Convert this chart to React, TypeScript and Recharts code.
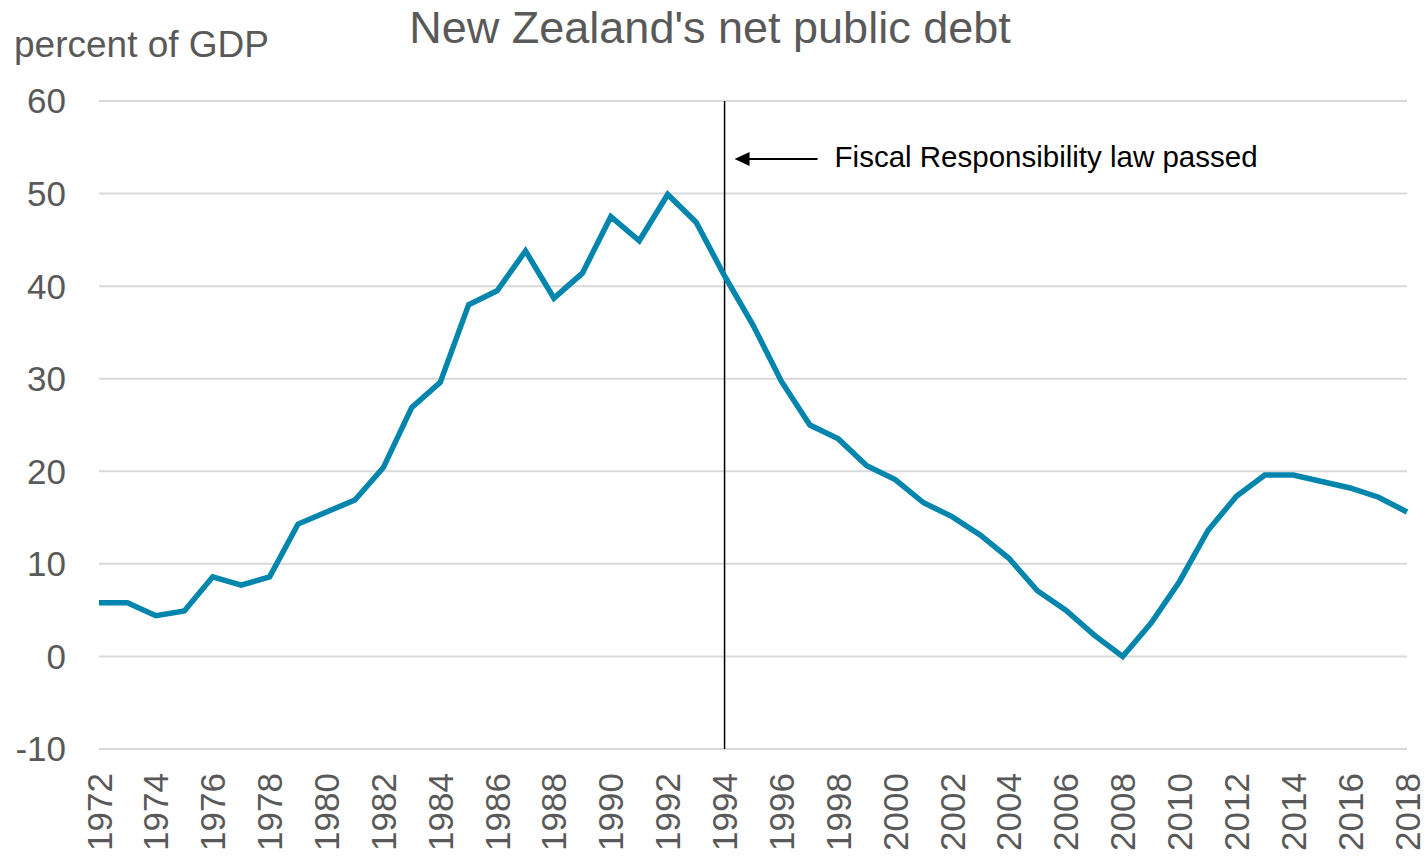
import React from 'react';
import { LineChart, Line, XAxis, YAxis, CartesianGrid, ReferenceLine } from 'recharts';

const years = [
  1972, 1973, 1974, 1975, 1976, 1977, 1978, 1979, 1980, 1981, 1982, 1983,
  1984, 1985, 1986, 1987, 1988, 1989, 1990, 1991, 1992, 1993, 1994, 1995,
  1996, 1997, 1998, 1999, 2000, 2001, 2002, 2003, 2004, 2005, 2006, 2007,
  2008, 2009, 2010, 2011, 2012, 2013, 2014, 2015, 2016, 2017, 2018,
];

const netDebt = [
  5.8, 5.8, 4.4, 4.9, 8.6, 7.7, 8.6, 14.3, 15.6, 16.9, 20.4, 26.9,
  29.6, 38.0, 39.5, 43.8, 38.7, 41.4, 47.5, 44.9, 49.9, 46.9, 41.1, 35.8,
  29.7, 25.0, 23.5, 20.6, 19.1, 16.6, 15.1, 13.1, 10.6, 7.1, 5.0, 2.3,
  0.0, 3.6, 8.1, 13.6, 17.3, 19.6, 19.6, 18.9, 18.2, 17.2, 15.6,
];

const yTicks = [-10, 0, 10, 20, 30, 40, 50, 60];
const xTicks = years.filter((y) => y % 2 === 0);

const title = "New Zealand's net public debt";
const unitLabel = 'percent of GDP';
const lawYear = 1994;
const lawNote = 'Fiscal Responsibility law passed';

const FONT = '"Liberation Sans", Arial, Helvetica, sans-serif';
const GREY = '#595959';

const data = years.map((year, i) => ({ year, debt: netDebt[i] }));

const YearTick = (props: any) => {
  const { x, y, payload } = props;
  return (
    <text
      x={x}
      y={y}
      transform={`rotate(-90, ${x}, ${y})`}
      textAnchor="end"
      dominantBaseline="central"
      fontSize={35}
      fontFamily={FONT}
      fill={GREY}
    >
      {payload.value}
    </text>
  );
};

// arrow + note to the right of the 1994 line
const LawLabel = (props: any) => {
  const { viewBox } = props;
  if (!viewBox) return null;
  const x0 = viewBox.x;
  const ay = viewBox.y + 58;
  return (
    <g>
      <line x1={x0 + 24} y1={ay} x2={x0 + 93} y2={ay} stroke="#000" strokeWidth={2} />
      <polygon points={`${x0 + 10},${ay} ${x0 + 25},${ay - 7} ${x0 + 25},${ay + 7}`} fill="#000" />
      <text
        x={x0 + 110}
        y={ay - 3}
        dominantBaseline="central"
        fontSize={29.5}
        fontFamily={FONT}
        fill="#000"
      >
        {lawNote}
      </text>
    </g>
  );
};

export default function App() {
  return (
    <div style={{ position: 'absolute', left: 0, top: 0, width: 1427, height: 857, background: '#fff' }}>
      <LineChart
        width={1427}
        height={857}
        data={data}
        margin={{ top: 101, right: 20, bottom: 0, left: 0 }}
      >
        <CartesianGrid horizontal vertical={false} stroke="#d9d9d9" strokeWidth={2} />
        <XAxis
          dataKey="year"
          type="number"
          domain={[1972, 2018]}
          ticks={xTicks}
          interval={0}
          axisLine={false}
          tickLine={false}
          tickSize={0}
          tickMargin={24}
          tick={<YearTick />}
          height={108}
        />
        <YAxis
          type="number"
          domain={[-10, 60]}
          ticks={yTicks}
          interval={0}
          width={99}
          axisLine={false}
          tickLine={false}
          tickSize={0}
          tickMargin={33}
          tick={{ fontSize: 35, fontFamily: FONT, fill: GREY }}
        />
        <ReferenceLine
          x={lawYear}
          stroke="#000"
          strokeWidth={1.5}
          label={<LawLabel />}
        />
        <Line
          type="linear"
          dataKey="debt"
          stroke="#0085ad"
          strokeWidth={5.5}
          dot={false}
          activeDot={false}
          isAnimationActive={false}
        />
      </LineChart>
      <svg
        width={1427}
        height={80}
        style={{ position: 'absolute', left: 0, top: 0, pointerEvents: 'none' }}
      >
        <text x={710} y={43} textAnchor="middle" fontSize={45} fontFamily={FONT} fill={GREY}>
          {title}
        </text>
        <text x={14} y={57} fontSize={37} fontFamily={FONT} fill={GREY}>
          {unitLabel}
        </text>
      </svg>
    </div>
  );
}
